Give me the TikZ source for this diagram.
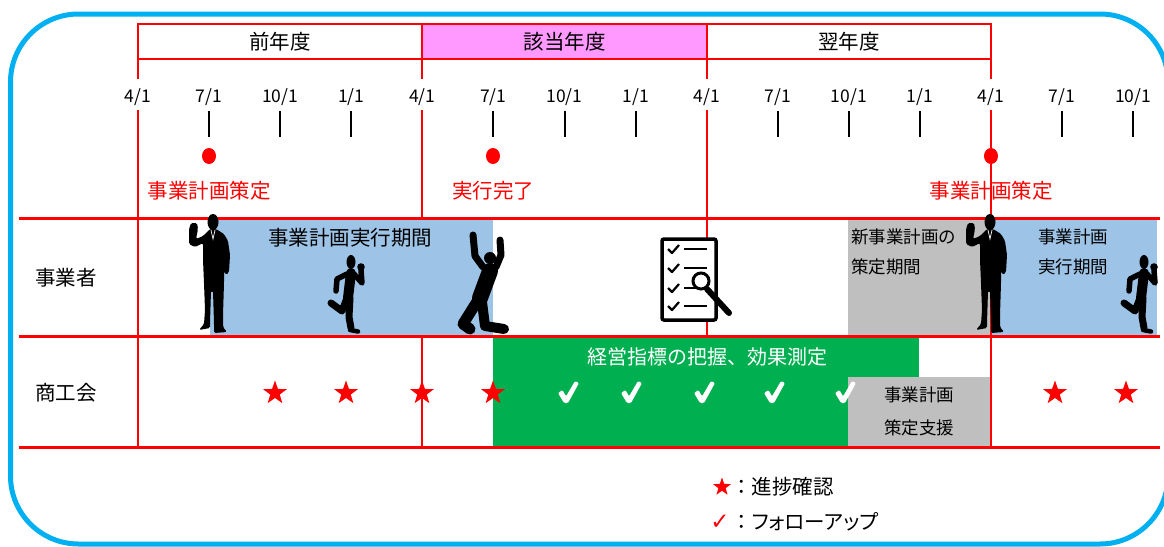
\documentclass[tikz,border=0pt]{standalone}
\usepackage{fontspec}
\setmainfont{Noto Sans CJK JP}
\newfontfamily\jpprop[RawFeature=+palt]{Noto Sans CJK JP}
\newfontfamily\symfont{DejaVu Sans}
\usetikzlibrary{shapes.geometric}
\definecolor{frameblue}{HTML}{00B0F0}
\definecolor{yearpink}{HTML}{FF99FF}
\definecolor{planblue}{HTML}{9DC3E6}
\definecolor{prepgray}{HTML}{BFBFBF}
\definecolor{checkgreen}{HTML}{00B050}
\definecolor{linered}{HTML}{FF0000}

\tikzset{
  standman/.pic={
    \fill[black, rounded corners=1.5]
      (-3,14) -- (3,14) -- (11,19) -- (15,26) -- (17,40) -- (16,57) -- (13,60)
      -- (11,56) -- (11,68) -- (10,100) -- (10,112) -- (14,117) -- (1,118)
      -- (1,108) -- (0,76) -- (-2,76) -- (-3,108) -- (-3,113) -- (-14,115)
      -- (-9,109) -- (-8,95) -- (-9,68) -- (-10,45) -- (-10,28) -- (-18,32)
      -- (-24,29) -- (-24,14) -- (-22,8) -- (-16,8) -- (-15,14) -- (-17,24)
      -- (-10,21) -- cycle;
    \fill[black] (0,7) ellipse [x radius=5.5, y radius=8];
    \draw[white, line width=0.7] (-2,15) -- (0,24) -- (2,15);
  },
  runman/.pic={
    \fill[black] (1,7) ellipse [x radius=4.5, y radius=7];
    \draw[black, line width=10, line cap=round] (1,18) -- (-2,43);
    \draw[black, line width=5.5, line cap=round, line join=round] (-3,19) -- (-13,24) -- (-14,36);
    \draw[black, line width=5.5, line cap=round, line join=round] (4,19) -- (12,28) -- (11,15);
    \fill[black] (11,12) circle (3.8);
    \draw[black, line width=7, line cap=round, line join=round] (-3,43) -- (-8,56) -- (-19,48);
    \draw[black, line width=7, line cap=round, line join=round] (0,43) -- (-1,62) -- (1,73);
    \draw[black, line width=4.5, line cap=round] (0,75) -- (8,76.5);
  },
  kneelman/.pic={
    \fill[black] (0,0) circle (6);
    \draw[black, line width=7, line cap=round, line join=round] (-7,9) -- (-15,-2) -- (-17,-23);
    \draw[black, line width=7, line cap=round, line join=round] (6,9) -- (11,-3) -- (10,-18);
    \draw[black, line width=16, line cap=round] (0,13) -- (-10,40);
    \draw[black, line width=11, line cap=round, line join=round] (-12,42) -- (-27,66) -- (-20,71);
    \draw[black, line width=10, line cap=round, line join=round] (-8,44) -- (-5,68) -- (14,71);
  },
  followtick/.pic={
    \fill[white, rounded corners=1.2]
      (-10,1) -- (-5.5,-2) -- (-2,4.5) -- (7,-11) -- (11,-9) -- (0,11) -- (-4,11) -- cycle;
  },
  jp/.style={font=\fontsize{20.5}{24}\selectfont, inner sep=0pt},
  jpsmall/.style={font=\fontsize{17.5}{21}\selectfont, inner sep=0pt},
  datelabel/.style={font=\fontsize{17.5}{20}\selectfont, inner sep=0pt},
  gridline/.style={linered, line width=2},
  rowline/.style={linered, line width=3},
  tickmark/.style={black, line width=2},
  milestone/.style={ellipse, fill=linered, minimum width=14, minimum height=16, inner sep=0pt},
  progress/.style={star, star points=5, star point ratio=2.5, fill=linered, minimum size=25, inner sep=0pt},
}

\begin{document}
\begin{tikzpicture}[x=1pt,y=-1pt]
\useasboundingbox (0,0) rectangle (1164,546);

% rounded frame
\draw[frameblue, line width=5, rounded corners=68] (10.5,14) rectangle (1168,544);

% fiscal year header
\fill[yearpink] (422.3,24) rectangle (706.7,59);
\draw[gridline] (138,24) rectangle (991,59);
\draw[gridline] (422.3,24) -- (422.3,59) (706.7,24) -- (706.7,59);
\node[jp] (prevyear) at (280,41.5) {前年度};
\node[jp] (curyear) at (564.5,41.5) {該当年度};
\node[jp] (nextyear) at (849,41.5) {翌年度};

% year boundaries
\foreach \xx in {138,422.3,706.7}{
  \draw[gridline] (\xx,59) -- (\xx,79) (\xx,110) -- (\xx,447);
}

% period bands
\fill[planblue] (210,218) rectangle (492.5,336);
\fill[prepgray] (848,218) rectangle (991,336);
\fill[planblue] (991,218) rectangle (1157,336);
\fill[checkgreen] (493,336) rectangle (919,447);
\fill[prepgray] (848,377) rectangle (991,447);

\draw[gridline] (991,59) -- (991,79) (991,110) -- (991,447);
\draw[rowline] (19,218) -- (1160,218) (19,336) -- (1160,336) (19,447) -- (1160,447);

% quarter dates and ticks
\foreach \k/\dlabel in {0/{4/1},1/{7/1},2/{10/1},3/{1/1},4/{4/1},5/{7/1},6/{10/1},7/{1/1},8/{4/1},9/{7/1},10/{10/1},11/{1/1},12/{4/1},13/{7/1},14/{10/1}}{
  \pgfmathsetmacro\xx{138+71.0833*\k}
  \node[datelabel] (date\k) at (\xx,97) {\dlabel};
}
\foreach \k in {1,2,3,5,6,7,9,10,11,13,14}{
  \pgfmathsetmacro\xx{138+71.0833*\k}
  \draw[tickmark] (\xx,111) -- (\xx,137);
}

% milestones
\node[milestone] (m1) at (209,156) {};
\node[milestone] (m2) at (493,156) {};
\node[milestone] (m3) at (991,156) {};
\node[jp, text=linered] (m1t) at (209,191) {事業計画策定};
\node[jp, text=linered] (m2t) at (493,191) {実行完了};
\node[jp, text=linered] (m3t) at (991,191) {事業計画策定};

% row headings
\node[jp] (rowowner) at (66,278) {事業者};
\node[jp] (rowchamber) at (66,393) {商工会};

% band captions
\node[jp] (exec1) at (350,238) {事業計画実行期間};
\node[jpsmall, anchor=west] (prep1) at (851,237) {新事業計画の};
\node[jpsmall, anchor=west] (prep2) at (851,267) {策定期間};
\node[jpsmall] (exec2a) at (1073,237) {事業計画};
\node[jpsmall] (exec2b) at (1073,267) {実行期間};
\node[jp, text=white, font=\fontsize{20}{24}\selectfont] (measure) at (707,357) {経営指標の把握、効果測定};
\node[jpsmall] (supp1) at (919,395) {事業計画};
\node[jpsmall] (supp2) at (919,428) {策定支援};

% checklist with magnifier
\draw[black, line width=3.5, rounded corners=2, fill=white] (662,239) rectangle (716,320);
\foreach \yy in {249,268,288,306}{
  \draw[black, line width=2.2, line join=round] (668,\yy) -- (672,\yy+4) -- (679,\yy-4);
  \draw[black, line width=2.5] (684,\yy) -- (707,\yy);
}
\draw[black, line width=6, line cap=round] (707,289) -- (729,313);
\draw[black, line width=3, fill=white] (701,281) circle (8);

% people
\pic at (213,215) {standman};
\pic at (990,215) {standman};
\pic at (350,255) {runman};
\pic at (1143,255) {runman};
\pic at (490,258) {kneelman};

% progress checks and follow-ups
\foreach \xx [count=\i] in {275,346,422,493,1055,1126}{
  \node[progress] (star\i) at (\xx,393) {};
}
\foreach \xx in {568,631,704,774,845}{
  \pic at (\xx,392) {followtick};
}

% legend
\node[progress, minimum size=19] (legstar) at (722,487) {};
\node[jp, anchor=west] (legstart) at (731,487) {：進捗確認};
\node[inner sep=0pt, text=linered, font=\symfont\bfseries\fontsize{23}{23}\selectfont] (legchk) at (720,522) {✓};
\node[jp, anchor=west] (legchkt) at (731,522) {：{\jpprop フォローアップ}};
\end{tikzpicture}
\end{document}
